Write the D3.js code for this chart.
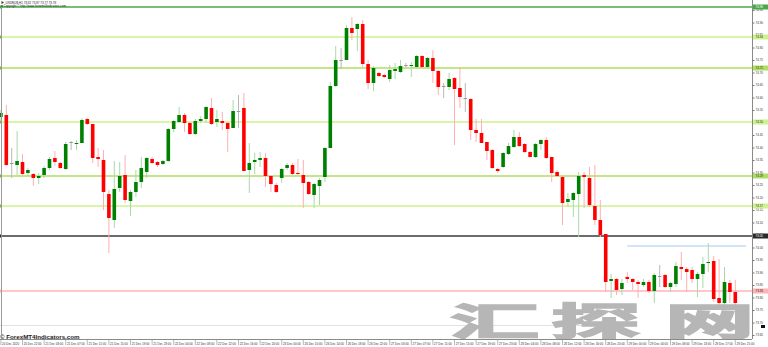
<!DOCTYPE html>
<html><head><meta charset="utf-8">
<script src="https://cdn.jsdelivr.net/npm/d3@7"></script>
<style>html,body{margin:0;padding:0;background:#fff;overflow:hidden}</style>
</head><body><svg id="c" width="768" height="347"></svg>
<script>
const symbolTitle = "USDRUB,H1  73.82 73.87 73.77 73.78";
const copyrightLine = "Copyright © http://www.forexmt4indicators.com";
const siteMark = "© ForexMT4Indicators.com";
const watermarkChars = ["汇", "探", "网"];

const opens = [74.522,74.53,74.338,74.33,74.342,74.298,74.294,74.278,74.29,74.318,
74.358,74.338,74.314,74.422,74.414,74.418,74.514,74.494,74.362,74.35,
74.214,74.11,74.238,74.29,74.186,74.222,74.262,74.302,74.354,74.342,
74.334,74.346,74.474,74.502,74.53,74.498,74.454,74.506,74.514,74.558,
74.502,74.506,74.498,74.478,74.546,74.558,74.31,74.342,74.35,74.358,
74.286,74.25,74.278,74.318,74.33,74.298,74.29,74.262,74.21,74.246,
74.282,74.398,74.646,74.75,74.75,74.878,74.874,74.894,74.734,74.658,
74.698,74.69,74.674,74.706,74.702,74.73,74.726,74.722,74.766,74.722,
74.758,74.706,74.646,74.642,74.678,74.638,74.598,74.594,74.47,74.458,
74.422,74.39,74.314,74.322,74.374,74.402,74.442,74.414,74.382,74.362,
74.414,74.43,74.362,74.302,74.282,74.182,74.19,74.214,74.29,74.278,
74.166,74.11,74.054,73.866,73.874,73.834,73.882,73.874,73.862,73.85,
73.862,73.826,73.886,73.89,73.842,73.854,73.922,73.914,73.91,73.874,
73.894,73.938,73.946,73.798,73.778,73.858,73.822];
const highs = [74.55,74.57,74.398,74.466,74.374,74.318,74.298,74.298,74.326,74.362,
74.386,74.342,74.422,74.426,74.43,74.518,74.518,74.494,74.398,74.39,
74.23,74.346,74.342,74.37,74.23,74.31,74.362,74.362,74.362,74.346,
74.35,74.478,74.51,74.562,74.538,74.502,74.514,74.526,74.566,74.598,
74.55,74.542,74.502,74.59,74.61,74.618,74.418,74.378,74.382,74.378,
74.29,74.258,74.318,74.338,74.338,74.354,74.35,74.266,74.258,74.278,
74.402,74.662,74.806,74.798,74.89,74.922,74.898,74.91,74.75,74.726,
74.702,74.694,74.73,74.738,74.75,74.738,74.742,74.77,74.77,74.762,
74.79,74.71,74.658,74.698,74.682,74.722,74.658,74.598,74.514,74.514,
74.422,74.394,74.318,74.382,74.418,74.47,74.462,74.418,74.386,74.418,
74.434,74.442,74.362,74.31,74.286,74.218,74.222,74.302,74.302,74.322,
74.33,74.19,74.054,73.894,73.878,73.874,73.902,73.878,73.87,73.874,
73.87,73.898,73.93,73.894,73.862,73.942,73.982,73.922,73.922,73.902,
73.962,74.018,73.966,73.954,73.922,73.87,73.87];
const lows = [74.51,74.326,74.278,74.29,74.29,74.286,74.246,74.254,74.278,74.31,
74.326,74.314,74.31,74.39,74.39,74.418,74.49,74.338,74.322,74.15,
73.978,74.078,74.222,74.178,74.126,74.202,74.238,74.278,74.334,74.322,
74.33,74.342,74.462,74.498,74.462,74.45,74.45,74.498,74.498,74.49,
74.482,74.47,74.382,74.478,74.478,74.306,74.218,74.294,74.322,74.242,
74.222,74.218,74.258,74.31,74.29,74.29,74.158,74.21,74.158,74.17,
74.262,74.398,74.642,74.714,74.75,74.83,74.786,74.722,74.634,74.626,
74.682,74.678,74.662,74.674,74.698,74.718,74.682,74.718,74.718,74.718,
74.658,74.61,74.598,74.63,74.41,74.558,74.542,74.43,74.422,74.418,
74.35,74.314,74.298,74.318,74.37,74.398,74.402,74.378,74.362,74.358,
74.39,74.354,74.262,74.282,74.09,74.162,74.122,74.042,74.158,74.162,
74.09,74.042,73.822,73.798,73.81,73.81,73.858,73.83,73.798,73.842,
73.818,73.778,73.842,73.838,73.822,73.842,73.87,73.822,73.858,73.802,
73.838,73.902,73.782,73.77,73.77,73.778,73.766];
const closes = [74.538,74.33,74.338,74.346,74.294,74.31,74.278,74.286,74.318,74.354,
74.342,74.318,74.414,74.422,74.418,74.51,74.494,74.358,74.354,74.222,
74.118,74.234,74.286,74.19,74.222,74.262,74.318,74.358,74.338,74.33,
74.346,74.474,74.506,74.53,74.498,74.454,74.506,74.514,74.562,74.494,
74.514,74.498,74.474,74.546,74.546,74.306,74.338,74.35,74.358,74.286,
74.254,74.222,74.314,74.33,74.294,74.294,74.258,74.214,74.254,74.27,
74.398,74.646,74.75,74.75,74.878,74.858,74.894,74.734,74.658,74.718,
74.686,74.682,74.71,74.714,74.726,74.73,74.73,74.766,74.722,74.758,
74.706,74.642,74.646,74.674,74.634,74.602,74.598,74.47,74.458,74.418,
74.386,74.318,74.306,74.378,74.406,74.442,74.406,74.382,74.362,74.414,
74.43,74.358,74.298,74.286,74.178,74.194,74.218,74.286,74.282,74.17,
74.11,74.05,73.862,73.874,73.83,73.858,73.874,73.862,73.854,73.862,
73.826,73.89,73.886,73.842,73.858,73.926,73.914,73.902,73.874,73.894,
73.934,73.942,73.794,73.778,73.862,73.822,73.778];

const timeLabels = ["20 Dec 2020","20 Dec 22:00","21 Dec 03:00","21 Dec 07:00","21 Dec 11:00","21 Dec 15:00","21 Dec 19:00","21 Dec 23:00","22 Dec 04:00","22 Dec 08:00","22 Dec 12:00","22 Dec 16:00","22 Dec 20:00","23 Dec 00:00","26 Dec 10:00","26 Dec 14:00","26 Dec 18:00","26 Dec 22:00","27 Dec 03:00","27 Dec 07:00","27 Dec 11:00","27 Dec 15:00","27 Dec 19:00","27 Dec 23:00","28 Dec 04:00","28 Dec 08:00","28 Dec 12:00","28 Dec 16:00","28 Dec 20:00","29 Dec 00:00","29 Dec 04:00","29 Dec 08:00","29 Dec 13:00","29 Dec 17:00","29 Dec 21:00"];
const labelEvery = 4;

const priceTicks = [73.65,73.70,73.75,73.80,73.85,73.90,73.95,74.00,74.05,74.10,74.15,74.20,74.25,74.30,74.35,74.40,74.45,74.50,74.55,74.60,74.65,74.70,74.75,74.80,74.85,74.90,74.95];

const levelPrices = [74.962, 74.842, 74.718, 74.502, 74.286, 74.166, 74.046, 73.826];
const levelKinds = ["top","light","mid","light","mid","light","black","pink"];
const trendPrice = 74.006, trendFrom = 116, trendTo = 138;

// ---------- drawing ----------
const W = 768, H = 347, plotRight = 752, plotBottom = 339;
const svg = d3.select("#c");
const n = opens.length;
const x = d3.scaleLinear().domain([0, n - 1]).range([0.9, 735.3]);
const y = d3.scaleLinear().domain([74.99 - H / 250, 74.99]).range([H, 0]);
const levelStyle = {
  top:   {stroke:"#4aa84a", box:"#4aa84a", text:"#fff"},
  light: {stroke:"#cdf28e", box:"#cdf28e", text:"#333"},
  mid:   {stroke:"#aede62", box:"#aede62", text:"#333"},
  black: {stroke:"#3a3a3a", box:"#2a2a2a", text:"#fff"},
  pink:  {stroke:"#ffb4b4", box:"#ffb4b4", text:"#333"}
};

svg.append("rect").attr("width", W).attr("height", H).attr("fill", "#fff");

// level lines
const lv = svg.append("g");
levelPrices.forEach((p, i) => {
  const s = levelStyle[levelKinds[i]];
  lv.append("line").attr("x1", 0).attr("x2", plotRight)
    .attr("y1", y(p)).attr("y2", y(p))
    .attr("stroke", s.stroke).attr("stroke-width", levelKinds[i] === "black" ? 1.4 : 1.3);
  lv.append("rect").attr("x", 0).attr("y", y(p) - 1.5).attr("width", 2).attr("height", 3)
    .attr("fill", levelKinds[i] === "light" || levelKinds[i] === "mid" ? "#7fb83a" : s.box);
});
// short trend line
svg.append("line").attr("x1", x(trendFrom)).attr("x2", x(trendTo))
  .attr("y1", y(trendPrice)).attr("y2", y(trendPrice))
  .attr("stroke", "#a9c8ef").attr("stroke-width", 1);

// candles
const idx = d3.range(n);
const colorOf = i => closes[i] > opens[i] ? "green" : (closes[i] < opens[i] ? "red" : "doji");
const bodyCol = {green:"#008000", red:"#ff0000", doji:"#9a9a9a"};
const wickCol = {green:"#a9d9a9", red:"#ffb0b0", doji:"#b8b8b8"};
const cg = svg.append("g");
cg.selectAll("line.w").data(idx).join("line")
  .attr("x1", i => x(i)).attr("x2", i => x(i))
  .attr("y1", i => y(highs[i])).attr("y2", i => y(lows[i]))
  .attr("stroke", i => wickCol[colorOf(i)]).attr("stroke-width", 1);
cg.selectAll("rect.b").data(idx).join("rect")
  .attr("x", i => x(i) - 1.8).attr("width", 3.6)
  .attr("y", i => y(Math.max(opens[i], closes[i])))
  .attr("height", i => Math.max(1, Math.abs(y(opens[i]) - y(closes[i]))))
  .attr("fill", i => bodyCol[colorOf(i)]);

// watermark banner (drawn over the candles like in the picture)
svg.append("line").attr("x1", 0).attr("x2", 635).attr("y1", 325.5).attr("y2", 325.5)
  .attr("stroke", "#e2e2e2").attr("stroke-width", 1.2);
const wmX = [450, 551, 665];
watermarkChars.forEach((ch, i) => {
  svg.append("text").attr("transform", `translate(${wmX[i]},335) scale(2.35,1)`)
    .attr("font-size", "38px").attr("font-weight", "bold")
    .attr("font-family", "Noto Sans CJK SC, sans-serif")
    .attr("fill", "#b6b6b6").attr("stroke", "#b6b6b6").attr("stroke-width", 1.6)
    .attr("stroke-linejoin", "miter").text(ch);
});
svg.append("text").attr("x", 0).attr("y", 339).attr("font-size", "6.2px").attr("font-weight", "bold")
  .attr("font-family", "Liberation Sans, Arial, sans-serif").attr("fill", "#222").text(siteMark);

// frame lines
svg.append("line").attr("x1", 1.5).attr("x2", 1.5).attr("y1", 6).attr("y2", plotBottom)
  .attr("stroke", "#9a9a9a").attr("stroke-width", 1);
svg.append("line").attr("x1", plotRight + 0.5).attr("x2", plotRight + 0.5).attr("y1", 0).attr("y2", plotBottom)
  .attr("stroke", "#8a8a8a").attr("stroke-width", 1);
svg.append("line").attr("x1", 0).attr("x2", plotRight).attr("y1", plotBottom + 0.5).attr("y2", plotBottom + 0.5)
  .attr("stroke", "#8a8a8a").attr("stroke-width", 1);

// price axis
const yAxis = d3.axisRight(y).tickValues(priceTicks).tickFormat(d3.format(".2f")).tickSize(2).tickPadding(1);
const ya = svg.append("g").attr("transform", `translate(${plotRight + 0.5},0)`).call(yAxis);
ya.select(".domain").remove();
ya.selectAll("line").attr("stroke", "#777");
ya.selectAll("text").attr("font-size", "3px").attr("font-family", "Liberation Sans, Arial, sans-serif").attr("fill", "#333");

// level boxes on axis
levelPrices.forEach((p, i) => {
  const s = levelStyle[levelKinds[i]];
  svg.append("rect").attr("x", plotRight + 1).attr("y", y(p) - 2.5).attr("width", W - plotRight - 1).attr("height", 5).attr("fill", s.box);
  svg.append("text").attr("x", plotRight + 3.5).attr("y", y(p) + 1).attr("font-size", "3px")
    .attr("font-family", "Liberation Sans, Arial, sans-serif").attr("fill", s.text).text(d3.format(".2f")(p));
});
svg.append("rect").attr("x", 761).attr("y", 325).attr("width", 4).attr("height", 3).attr("fill", "#111");

// time axis
const tg = svg.append("g");
timeLabels.forEach((t, k) => {
  const xi = x(k * labelEvery);
  tg.append("line").attr("x1", xi).attr("x2", xi).attr("y1", plotBottom).attr("y2", plotBottom + 6)
    .attr("stroke", "#8a8a8a").attr("stroke-width", 0.6);
  tg.append("text").attr("x", xi + 1.2).attr("y", plotBottom + 5.5).attr("font-size", "3px")
    .attr("font-family", "Liberation Sans, Arial, sans-serif").attr("fill", "#333").text(t);
});

// header texts
svg.append("path").attr("d", "M1.5,1 L4,2.5 L1.5,4 Z").attr("fill", "#333");
svg.append("text").attr("x", 5.5).attr("y", 3.6).attr("font-size", "3px")
  .attr("font-family", "Liberation Sans, Arial, sans-serif").attr("fill", "#222").text(symbolTitle);
svg.append("rect").attr("x", 1).attr("y", 5.2).attr("width", 2).attr("height", 2).attr("fill", "#2e8b2e");
svg.append("text").attr("x", 3.5).attr("y", 7.4).attr("font-size", "3px")
  .attr("font-family", "Liberation Sans, Arial, sans-serif").attr("fill", "#222").text(copyrightLine);
</script>
</body></html>
